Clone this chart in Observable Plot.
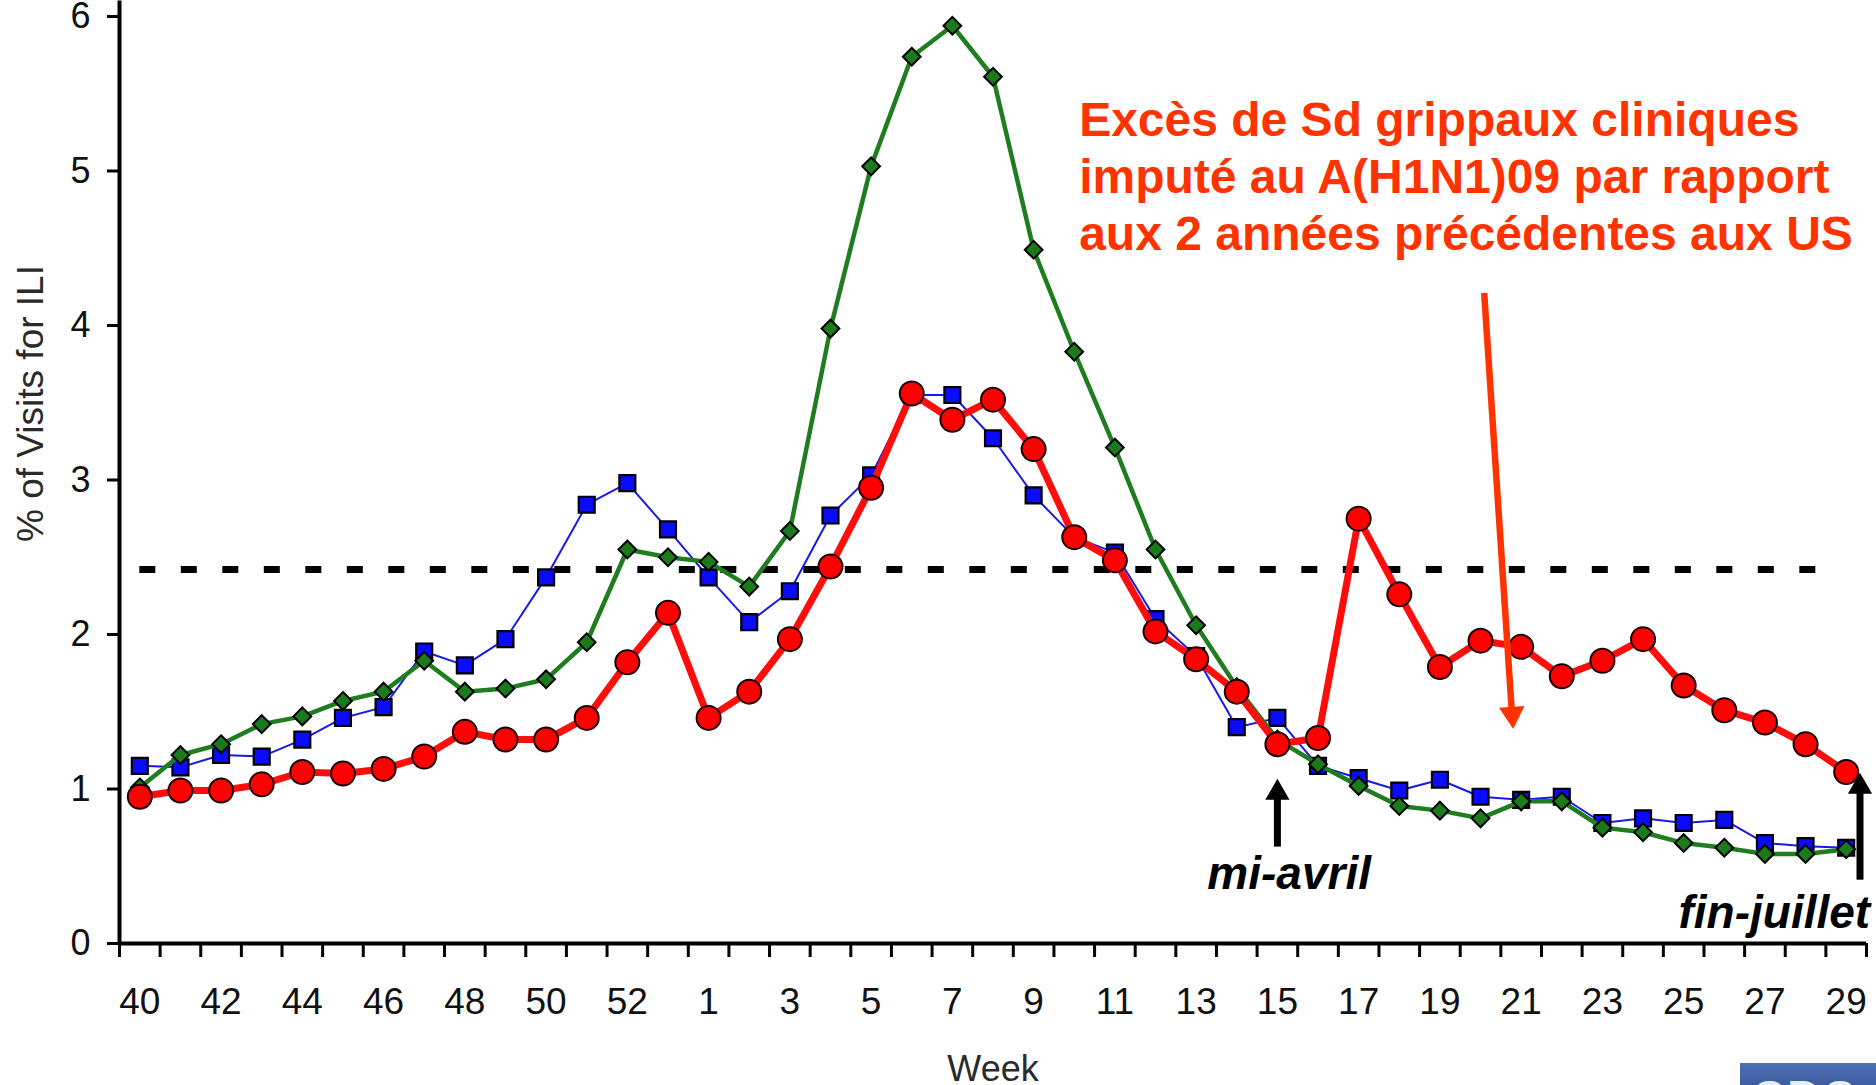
<!DOCTYPE html>
<html>
<head>
<meta charset="utf-8">
<script src="https://cdn.jsdelivr.net/npm/d3@7"></script>
<script src="https://cdn.jsdelivr.net/npm/@observablehq/plot@0.6"></script>
<style>
  html, body { margin: 0; padding: 0; background: #fff; overflow: hidden; }
  #wrap { position: relative; width: 1876px; height: 1085px; }
  #cdc { position: absolute; left: 1740px; top: 1063px; width: 136px; height: 22px; overflow: hidden;
         background: linear-gradient(#4f70b2, #3c5d9f); }
  #cdc span { position: absolute; left: 12px; top: 11px; font: bold 46px "Liberation Sans", Arial, sans-serif;
              color: #e8eef8; line-height: 1; letter-spacing: 2px; }
</style>
</head>
<body>
<div id="wrap"></div>
<script>
// MMWR weeks, 2008 had a week 53
const weeks = [40,41,42,43,44,45,46,47,48,49,50,51,52,53,
  1,2,3,4,5,6,7,8,9,10,11,12,13,14,15,16,17,18,19,20,21,22,23,24,25,26,27,28,29];

// % of visits for ILI (red circles, 2008-09 season with A(H1N1)09 excess)
const season0809 = [0.95,0.99,0.99,1.03,1.11,1.10,1.13,1.21,1.37,1.32,1.32,1.46,1.82,2.14,
  1.46,1.63,1.97,2.44,2.95,3.56,3.39,3.52,3.20,2.63,2.48,2.02,1.84,1.63,1.29,1.33,
  2.75,2.26,1.79,1.96,1.92,1.73,1.83,1.97,1.67,1.51,1.43,1.29,1.11];

// green diamonds (2007-08)
const season0708 = [1.01,1.22,1.29,1.42,1.47,1.57,1.63,1.83,1.63,1.65,1.71,1.95,2.55,2.50,
  2.47,2.31,2.67,3.98,5.03,5.74,5.94,5.61,4.49,3.83,3.21,2.55,2.06,1.66,1.32,1.16,
  1.02,0.89,0.86,0.81,0.92,0.92,0.75,0.72,0.65,0.62,0.58,0.58,0.61];

// blue squares (2006-07)
const season0607 = [1.15,1.14,1.22,1.21,1.32,1.46,1.53,1.89,1.80,1.97,2.37,2.84,2.98,2.68,
  2.37,2.08,2.28,2.77,3.03,3.55,3.55,3.27,2.90,2.63,2.53,2.10,1.86,1.40,1.46,1.15,
  1.07,0.99,1.06,0.95,0.93,0.95,0.78,0.81,0.78,0.80,0.65,0.63,0.62];

const baseline = 2.42;
const yTicks = [0,1,2,3,4,5,6];

const titleLines = [
  "Excès de Sd grippaux cliniques",
  "imputé au A(H1N1)09 par rapport",
  "aux 2 années précédentes aux US"
];
const yLabel = "% of Visits for ILI";
const xLabel = "Week";

// annotations in data space (week index, % value)
const noteMid = [{x: 28.29, y: 0.355, text: "mi-avril"}];
const noteEnd = [{x: 42.59, y: 0.103, text: "fin-juillet"}];
const blackShafts = [
  {x1: 28, y1: 0.627, x2: 28, y2: 0.95},
  {x1: 42.34, y1: 0.413, x2: 42.34, y2: 0.99}
];
const blackHeads = [
  {x: 28, y: 0.975},
  {x: 42.34, y: 1.014}
];
const redShaft = [{x1: 33.09, y1: 4.21, x2: 33.77, y2: 1.50}];
const redHead = [{x: 33.78, y: 1.484, angle: 176.2}];

// build tables
const idx = weeks.map((w, i) => i);
const toRows = (vals) => vals.map((v, i) => ({i, v}));
const red = toRows(season0809);
const green = toRows(season0708);
const blue = toRows(season0607);
const labelIdx = idx.filter(i => i % 2 === 0);
const bounds = [...idx.map(i => i - 0.5), weeks.length - 0.5];

const font = "'Liberation Sans', Arial, Helvetica, sans-serif";

const chart = Plot.plot({
  width: 1876,
  height: 1085,
  marginLeft: 119,
  marginRight: 10,
  marginTop: 16,
  marginBottom: 142,
  style: {fontFamily: font, background: "#fff", overflow: "visible"},
  x: {type: "linear", domain: [-0.5, weeks.length - 0.5], label: null},
  y: {domain: [0, 6], label: null},
  marks: [
    // axes
    Plot.axisY({ticks: yTicks, tickFormat: d => String(d), tickSize: 12, tickPadding: 17, fontSize: 36,
      strokeWidth: 3, stroke: "#000", fill: "#111", label: null}),
    Plot.axisX({ticks: labelIdx, tickSize: 0, tickPadding: 44, fontSize: 37,
      tickFormat: i => String(weeks[i]), fill: "#111", label: null}),
    Plot.axisX({ticks: bounds, tickSize: 14, strokeWidth: 3, stroke: "#000",
      tickFormat: () => "", label: null}),
    Plot.ruleY([0], {stroke: "#000", strokeWidth: 4}),
    Plot.ruleX([-0.5], {y1: 0, y2: 6.1, stroke: "#000", strokeWidth: 4}),

    // baseline
    Plot.ruleY([baseline], {x1: 0, x2: 41.4, stroke: "#000", strokeWidth: 7, strokeDasharray: "16,25.5"}),

    // blue series
    Plot.line(blue, {x: "i", y: "v", stroke: "#1a1ae6", strokeWidth: 2}),
    Plot.dot(blue, {x: "i", y: "v", symbol: "square", r: 9, fill: "#0a0aff", stroke: "#000", strokeWidth: 2.2}),

    // green series
    Plot.line(green, {x: "i", y: "v", stroke: "#1f7d1f", strokeWidth: 4.5}),
    Plot.dot(green, {x: "i", y: "v", symbol: "diamond2", r: 8, fill: "#1b7a1b", stroke: "#000", strokeWidth: 2}),

    // red series
    Plot.line(red, {x: "i", y: "v", stroke: "#ff0d0d", strokeWidth: 7}),
    Plot.dot(red, {x: "i", y: "v", r: 12, fill: "#ff0000", stroke: "#1a0000", strokeWidth: 2}),

    // annotations
    Plot.text([titleLines.join("\n")], {x: 23.12, y: 4.49, text: d => d, textAnchor: "start",
      lineAnchor: "bottom", lineHeight: 1.19, fontSize: 48, fontWeight: "bold", fill: "#ff3300"}),
    Plot.link(redShaft, {x1: "x1", y1: "y1", x2: "x2", y2: "y2", stroke: "#ff3300", strokeWidth: 6.5}),
    Plot.dot(redHead, {x: "x", y: "y", symbol: "triangle", r: 9.5, fill: "#ff3300", stroke: null, rotate: "angle"}),

    Plot.link(blackShafts, {x1: "x1", y1: "y1", x2: "x2", y2: "y2", stroke: "#000", strokeWidth: 7}),
    Plot.dot(blackHeads, {x: "x", y: "y", symbol: "triangle", r: 9, fill: "#000", stroke: null}),
    Plot.text(noteMid, {x: "x", y: "y", text: "text", textAnchor: "middle", lineAnchor: "bottom",
      fontSize: 46, fontWeight: "bold", fontStyle: "italic", fill: "#000"}),
    Plot.text(noteEnd, {x: "x", y: "y", text: "text", textAnchor: "end", lineAnchor: "bottom",
      fontSize: 46, fontWeight: "bold", fontStyle: "italic", fill: "#000"}),

    // axis titles
    Plot.text([yLabel], {x: -0.5, y: 3.495, text: d => d, rotate: -90, dx: -77, textAnchor: "middle",
      lineAnchor: "bottom", fontSize: 37, fill: "#2a2a2a"}),
    Plot.text([xLabel], {x: 21, frameAnchor: "bottom", dy: 137, text: d => d, textAnchor: "middle",
      lineAnchor: "bottom", fontSize: 36, fill: "#2a2a2a"})
  ]
});

const wrap = document.getElementById("wrap");
wrap.appendChild(chart);
const logo = document.createElement("div");
logo.id = "cdc";
logo.innerHTML = "<span>CDC</span>";
wrap.appendChild(logo);
</script>
</body>
</html>
